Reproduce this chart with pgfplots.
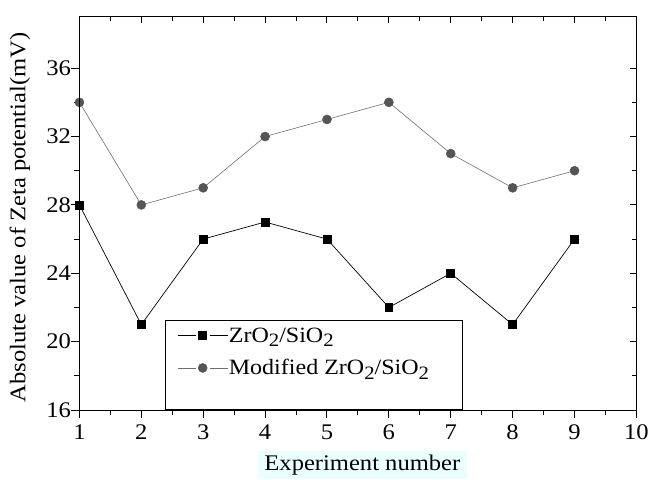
\documentclass[border=0pt]{standalone}
\usepackage{pgfplots}
\pgfplotsset{compat=1.18}
\usepackage{fontspec}
\setmainfont{Liberation Serif}[FakeStretch=1.1]
\definecolor{gr}{RGB}{85,85,85}
\definecolor{grl}{RGB}{110,110,110}
\definecolor{labbg}{RGB}{235,255,255}
\newcommand\sub[1]{\raisebox{-0.45ex}{\fontsize{19}{19}\selectfont #1}}
\begin{document}
\begin{tikzpicture}
\pgfplotsset{
  base/.style={width=561pt,height=396pt,scale only axis,
    xmin=1,xmax=10,ymin=16,ymax=39,
    xtick={1,...,10}, ytick={16,20,...,36},
    minor x tick num=1, minor y tick num=1,
    axis line style={line width=1.1pt},
    major tick style={line width=1pt,black},
    minor tick style={line width=1pt,black},
    at={(0,0)}, anchor=south west}
}
\begin{axis}[base,
  xtick pos=left, ytick pos=left, tick align=outside,
  major tick length=8pt, minor tick length=5pt,
  /pgf/number format/assume math mode=true,
  tick label style={font=\fontsize{22.5}{23}\selectfont},
  xticklabel style={yshift=-3pt},
  yticklabel style={xshift=3pt},
  xlabel={Experiment number},
  ylabel={Absolute value of Zeta potential(mV)},
  label style={font=\fontsize{22.5}{23}\selectfont},
  xlabel style={at={(rel axis cs:0.508,0)}, anchor=north, yshift=-41pt, fill=labbg, inner xsep=7pt, inner ysep=4pt},
  ylabel style={at={(rel axis cs:0,0.49)}, anchor=center, yshift=60pt},
  legend style={at={(rel axis cs:0.154,0)}, anchor=south west, draw=black, line width=0.8pt,
    font=\fontsize{22}{23}\selectfont, inner xsep=12pt, inner ysep=5pt, row sep=12pt,
    nodes={inner xsep=1pt}},
  legend cell align=left,
  legend image code/.code={\draw[#1] (0pt,0pt) -- (18pt,0pt); \draw[#1] (32pt,0pt) -- (50pt,0pt); \draw[#1, only marks] plot coordinates {(25pt,0pt)};},
]
\addplot[black, line width=0.7pt, mark=square*, mark size=4pt, mark options={solid, fill=black}]
  coordinates {(1,28)(2,21)(3,26)(4,27)(5,26)(6,22)(7,24)(8,21)(9,26)};
\addlegendentry{\makebox[222pt][l]{ZrO\sub{2}/SiO\sub{2}}}
\addplot[grl, line width=0.6pt, mark=*, mark size=4.5pt, mark options={solid, draw=gr, fill=gr}]
  coordinates {(1,34)(2,28)(3,29)(4,32)(5,33)(6,34)(7,31)(8,29)(9,30)};
\addlegendentry{Modified ZrO\sub{2}/SiO\sub{2}}
\addlegendimage{empty legend}
\addlegendentry{\rule{0pt}{9pt}}
\end{axis}
\begin{axis}[base,
  xtick pos=right, ytick pos=right, tick align=inside,
  xticklabels={}, yticklabels={},
  major tick length=6pt, minor tick length=4pt]
\end{axis}
\path (-80pt,-69pt) rectangle (572pt,413pt);
\end{tikzpicture}
\end{document}
